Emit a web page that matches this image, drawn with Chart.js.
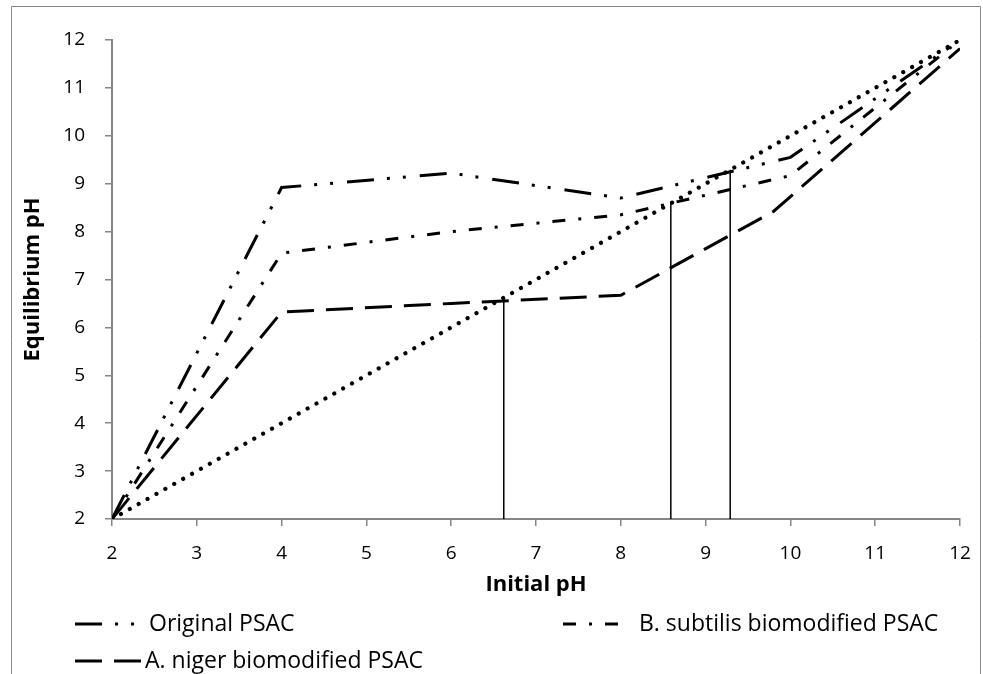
<!DOCTYPE html>
<html>
<head>
<meta charset="utf-8">
<script src="https://cdn.jsdelivr.net/npm/chart.js@4"></script>
<style>
  body { margin: 0; background: #fff; }
  canvas { display: block; }
</style>
</head>
<body>
<canvas id="c" width="983" height="674"></canvas>
<script>
// values
const originalX = [2, 4, 6, 8, 10, 12];
const originalY = [2, 8.92, 9.22, 8.7, 9.55, 12];
const subtilisX = [2, 4, 6, 8, 10, 12];
const subtilisY = [2, 7.55, 8.0, 8.35, 9.17, 12];
const nigerX = [2, 4, 6, 8, 9.8, 12];
const nigerY = [2, 6.32, 6.5, 6.67, 8.42, 11.82];
const refX = [2, 12];
const refY = [2, 12];
const pzcValues = [6.62, 8.59, 9.29];

const seriesNames = ['Original PSAC', 'B. subtilis biomodified PSAC', 'A. niger biomodified PSAC'];

const FONT = '"Open Sans", "Noto Sans", sans-serif';
const AXIS_GREY = '#868686';

const pts = (xs, ys) => xs.map((x, i) => ({ x: x, y: ys[i] }));

const datasets = [
  {
    label: seriesNames[0],
    data: pts(originalX, originalY),
    borderColor: '#000',
    borderWidth: 3,
    borderDash: [27, 13, 3, 13, 3, 14],
    inLegend: true
  },
  {
    label: seriesNames[1],
    data: pts(subtilisX, subtilisY),
    borderColor: '#000',
    borderWidth: 3,
    borderDash: [13, 13, 3, 13],
    inLegend: true
  },
  {
    label: seriesNames[2],
    data: pts(nigerX, nigerY),
    borderColor: '#000',
    borderWidth: 3,
    borderDash: [27, 12],
    inLegend: true
  },
  {
    label: 'pH initial = pH equilibrium',
    data: pts(refX, refY),
    borderColor: '#000',
    borderWidth: 4.2,
    borderDash: [0.01, 10.2],
    borderCapStyle: 'round'
  }
];

// pH point of zero charge drop lines
pzcValues.forEach(v => {
  datasets.push({
    label: 'pzc ' + v,
    data: [{ x: v, y: 2 }, { x: v, y: v }],
    borderColor: '#000',
    borderWidth: 1.5
  });
});

// outer frame like the exported picture
const framePlugin = {
  id: 'frame',
  beforeDraw(chart) {
    const ctx = chart.ctx;
    ctx.save();
    ctx.strokeStyle = '#898989';
    ctx.lineWidth = 1;
    ctx.beginPath();
    ctx.moveTo(11.5, 674);
    ctx.lineTo(11.5, 6.5);
    ctx.lineTo(980.5, 6.5);
    ctx.lineTo(980.5, 674);
    ctx.stroke();
    ctx.restore();
  }
};

// two-column legend under the axis title
const legendPlugin = {
  id: 'gridLegend',
  afterDraw(chart) {
    const ctx = chart.ctx;
    const slots = [
      { x: 75, y: 624, textX: 149 },
      { x: 563, y: 624, textX: 639 },
      { x: 75, y: 661, textX: 145 }
    ];
    const items = chart.data.datasets.filter(d => d.inLegend);
    ctx.save();
    items.forEach((ds, i) => {
      const s = slots[i];
      ctx.strokeStyle = ds.borderColor;
      ctx.lineWidth = ds.borderWidth;
      ctx.setLineDash(ds.borderDash || []);
      ctx.lineCap = 'butt';
      ctx.beginPath();
      ctx.moveTo(s.x, s.y);
      ctx.lineTo(s.x + 68, s.y);
      ctx.stroke();
      ctx.setLineDash([]);
      ctx.fillStyle = '#000';
      ctx.font = '23px ' + FONT;
      ctx.textBaseline = 'middle';
      ctx.textAlign = 'left';
      ctx.fillText(ds.label, s.textX, s.y);
    });
    ctx.restore();
  }
};

new Chart(document.getElementById('c'), {
  type: 'line',
  data: { datasets: datasets },
  options: {
    responsive: false,
    animation: false,
    devicePixelRatio: 1,
    layout: { padding: { left: 0, top: 40, right: 23, bottom: 74 } },
    elements: {
      point: { radius: 0, hoverRadius: 0 },
      line: { tension: 0, fill: false }
    },
    plugins: {
      legend: { display: false },
      tooltip: { enabled: false }
    },
    scales: {
      x: {
        type: 'linear',
        min: 2,
        max: 12,
        ticks: {
          stepSize: 1,
          color: '#000',
          font: { family: FONT, size: 19 },
          padding: 16,
          maxRotation: 0
        },
        grid: { drawOnChartArea: false, tickLength: 7, color: AXIS_GREY, lineWidth: 1.5 },
        border: { color: AXIS_GREY, width: 2 },
        title: {
          display: true,
          text: 'Initial pH',
          color: '#000',
          font: { family: FONT, size: 22, weight: 'bold' },
          padding: { top: 0, bottom: 2 }
        },
        afterFit(scale) {
          scale.height = 81;
          scale.paddingLeft = 0;
          scale.paddingRight = 0;
        }
      },
      y: {
        type: 'linear',
        min: 2,
        max: 12,
        ticks: {
          stepSize: 1,
          color: '#000',
          font: { family: FONT, size: 19 },
          padding: 20
        },
        grid: { drawOnChartArea: false, tickLength: 7, color: AXIS_GREY, lineWidth: 1.5 },
        border: { color: AXIS_GREY, width: 2 },
        title: {
          display: true,
          text: 'Equilibrium pH',
          color: '#000',
          font: { family: FONT, size: 22, weight: 'bold' },
          padding: { top: 20, bottom: 0 }
        },
        afterFit(scale) {
          scale.width = 112;
          scale.paddingTop = 0;
          scale.paddingBottom = 0;
        }
      }
    }
  },
  plugins: [framePlugin, legendPlugin]
});
</script>
</body>
</html>
